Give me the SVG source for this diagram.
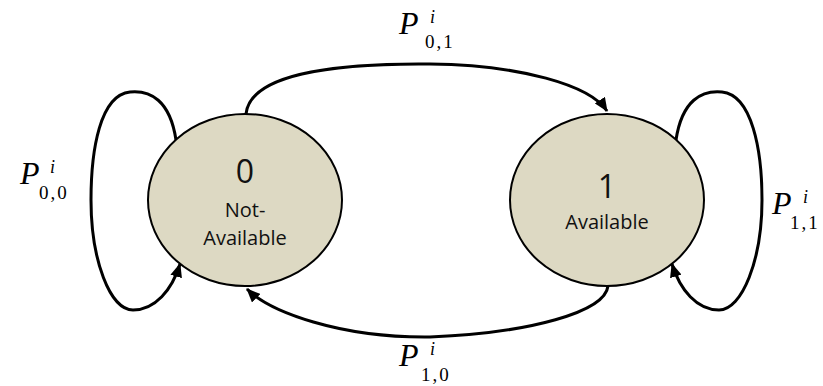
<svg xmlns="http://www.w3.org/2000/svg" width="823" height="386" viewBox="0 0 823 386">
<style>
.node{fill:#DDD9C3;stroke:#000;stroke-width:2}
.edge{fill:none;stroke:#000;stroke-width:3}
.big{font-family:"Open Sans",sans-serif;font-size:32px;fill:#111;text-anchor:middle}
.lbl{font-family:"Open Sans",sans-serif;font-size:20px;fill:#111;text-anchor:middle}
.P{font-family:"Liberation Serif",serif;font-style:italic;font-size:32px;fill:#000}
.sup{font-family:"Liberation Serif",serif;font-style:italic;font-size:18px;fill:#000}
.sub{font-family:"Liberation Serif",serif;font-size:19px;fill:#000;letter-spacing:2px}
</style>
<defs>
<marker id="ah" viewBox="0 0 14 12" refX="13" refY="6" markerWidth="14" markerHeight="12" orient="auto" markerUnits="userSpaceOnUse"><path d="M0,0 L14,6 L0,12 z" fill="#000"/></marker>
</defs>
<g id="connectors">
<path class="edge" d="M246,114 C250,75 330,63 430,64 C520,65 590,85 607,111" marker-end="url(#ah)"/>
<path class="edge" d="M608,286 C605,312 530,333 430,337 C340,338 270,312 247,289" marker-end="url(#ah)"/>
<path class="edge" d="M176,140 C170,100 150,90 130,92 C100,95 91,150 91,200 C91,260 110,310 133,310 C155,310 172,290 180,264" marker-end="url(#ah)"/>
<path class="edge" d="M676,140 C682,100 702,90 722,92 C752,95 762,150 762,200 C762,260 742,310 719,310 C697,310 680,290 672,264" marker-end="url(#ah)"/>
</g>
<g id="node0">
<ellipse class="node" cx="245" cy="200" rx="97" ry="86"/>
<text class="big" x="245" y="183">0</text>
<text class="lbl" x="245" y="217">Not-</text>
<text class="lbl" x="245" y="245">Available</text>
</g>
<g id="node1">
<ellipse class="node" cx="607" cy="200" rx="97" ry="86"/>
<text class="big" x="607" y="198">1</text>
<text class="lbl" x="607" y="229">Available</text>
</g>
<g id="label01">
<text class="P" x="399" y="34">P</text>
<text class="sup" x="430" y="23">i</text>
<text class="sub" x="425" y="48">0,1</text>
</g>
<g id="label00">
<text class="P" x="20" y="184">P</text>
<text class="sup" x="50" y="173">i</text>
<text class="sub" x="39" y="199">0,0</text>
</g>
<g id="label10">
<text class="P" x="399" y="366">P</text>
<text class="sup" x="430" y="355">i</text>
<text class="sub" x="421" y="381">1,0</text>
</g>
<g id="label11">
<text class="P" x="772" y="214">P</text>
<text class="sup" x="803" y="203">i</text>
<text class="sub" x="790" y="229">1,1</text>
</g>
</svg>
